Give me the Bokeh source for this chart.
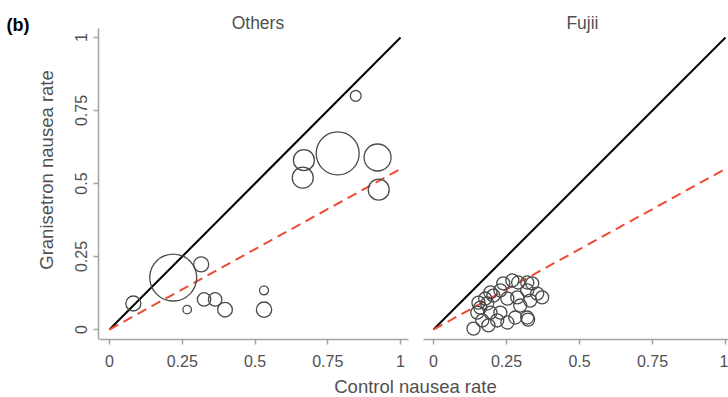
from bokeh.plotting import figure
from bokeh.layouts import row, column
from bokeh.models import ColumnDataSource, Label, FixedTicker
from bokeh.embed import file_html
from bokeh.resources import INLINE
import numpy as np

# --- data -----------------------------------------------------------------
# "Others" trials: control vs granisetron nausea rate, bubble area ~ weight
others_control = [0.846, 0.668, 0.664, 0.784, 0.921, 0.925, 0.219, 0.315,
                  0.082, 0.267, 0.325, 0.363, 0.397, 0.531, 0.531]
others_granisetron = [0.800, 0.580, 0.520, 0.603, 0.589, 0.479, 0.178, 0.223,
                      0.089, 0.068, 0.103, 0.103, 0.068, 0.134, 0.068]
others_weight = [13, 49, 49, 205, 81, 49, 245, 25, 25, 8, 20, 20, 24, 9, 26]

# "Fujii" trials
fujii_control = [0.137, 0.167, 0.188, 0.218, 0.253, 0.280, 0.321, 0.324,
                 0.229, 0.195, 0.160, 0.154, 0.184, 0.205, 0.229, 0.195,
                 0.239, 0.270, 0.290, 0.321, 0.338, 0.287, 0.321, 0.331,
                 0.372, 0.355, 0.177, 0.253, 0.150, 0.297]
fujii_granisetron = [0.003, 0.031, 0.014, 0.031, 0.024, 0.041, 0.041, 0.034,
                     0.058, 0.058, 0.075, 0.092, 0.089, 0.116, 0.134, 0.127,
                     0.158, 0.168, 0.161, 0.161, 0.158, 0.110, 0.134, 0.099,
                     0.110, 0.123, 0.106, 0.106, 0.058, 0.082]
fujii_weight = [19] * len(fujii_control)

# reference lines: identity and pooled ratio
identity_x = [0, 1]
pooled_ratio = 0.55

tick_values = [0, 0.25, 0.5, 0.75, 1]
tick_labels = ["0", "0.25", "0.5", "0.75", "1"]

panel_titles = ["Others", "Fujii"]
panel_tag = "(b)"
x_title = "Control nausea rate"
y_title = "Granisetron nausea rate"

# --- styling ---------------------------------------------------------------
FONT = "Liberation Sans"
AXIS_GREY = "#a3a3a3"
TEXT_GREY = "#505050"
BUBBLE = "#4a4a4a"
RED = "#ee4a35"
PX_PER_UNIT = 292.0
PANEL_H = 372
TAG_W = 32


def bubble_source(xs, ys, ws):
    return ColumnDataSource(dict(x=xs, y=ys, size=[3.0 * np.sqrt(w) for w in ws]))


def style_axis(ax, bounds, vertical=False):
    ax.bounds = bounds
    ax.ticker = FixedTicker(ticks=tick_values)
    ax.major_label_overrides = {float(v): s for v, s in zip(tick_values, tick_labels)}
    ax.axis_line_color = AXIS_GREY
    ax.axis_line_width = 1.5
    ax.major_tick_line_color = AXIS_GREY
    ax.major_tick_line_width = 1.5
    ax.major_tick_in = 0
    ax.major_tick_out = 5
    ax.minor_tick_line_color = None
    ax.major_label_text_font = FONT
    ax.major_label_text_font_size = "16px"
    ax.major_label_text_color = TEXT_GREY
    if vertical:
        ax.major_label_orientation = "vertical"
        ax.major_label_standoff = 7
    else:
        ax.major_label_standoff = 10


def blank(width, height):
    f = figure(width=width, height=height, x_range=(0, width), y_range=(0, height),
               output_backend="svg", toolbar_location=None,
               x_axis_location=None, y_axis_location=None, min_border=0)
    f.grid.visible = False
    f.outline_line_color = None
    return f


def panel(width, x_start, title, xs, ys, ws, border_left):
    y_start = -10 / PX_PER_UNIT
    frame_left = border_left if border_left else 0
    p = figure(width=width, height=PANEL_H,
               x_range=(x_start, x_start + (width - frame_left) / PX_PER_UNIT),
               y_range=(y_start, y_start + 339 / PX_PER_UNIT),
               output_backend="svg", toolbar_location=None,
               min_border_left=frame_left, min_border_right=0,
               min_border_top=0, min_border_bottom=33,
               y_axis_location="left" if border_left else None)
    p.grid.visible = False
    p.outline_line_color = None
    p.background_fill_color = "white"
    p.border_fill_color = "white"

    style_axis(p.xaxis[0], (-0.035, 1.027 if border_left else 1.2))

    p.line(identity_x, identity_x, line_color="black", line_width=2)
    p.line(identity_x, [pooled_ratio * v for v in identity_x],
           line_color=RED, line_width=2, line_dash="10 6")
    p.scatter("x", "y", size="size", source=bubble_source(xs, ys, ws),
              marker="circle", fill_color=None, line_color=BUBBLE,
              line_width=1.3)

    p.add_layout(Label(x=0.51, y=(329 - 22) / PX_PER_UNIT, text=title,
                       text_align="center", text_baseline="middle",
                       text_font=FONT, text_font_size="17.5px",
                       text_color=TEXT_GREY))
    return p


# narrow strip on the far left carrying the panel tag
tag = blank(TAG_W, PANEL_H)
tag.add_layout(Label(x=6, y=PANEL_H - 26.5, text=panel_tag, text_align="left",
                     text_baseline="middle", text_font=FONT,
                     text_font_size="18px", text_font_style="bold",
                     text_color="black"))

left = panel(416 - TAG_W, -11 / PX_PER_UNIT, panel_titles[0],
             others_control, others_granisetron, others_weight, 97 - TAG_W)
style_axis(left.yaxis[0], (-0.035, 1.03), vertical=True)
left.yaxis[0].axis_label = y_title
left.yaxis[0].axis_label_text_font = FONT
left.yaxis[0].axis_label_text_font_size = "18.5px"
left.yaxis[0].axis_label_text_font_style = "normal"
left.yaxis[0].axis_label_text_color = TEXT_GREY
left.yaxis[0].axis_label_standoff = 15

right = panel(312, -17 / PX_PER_UNIT, panel_titles[1],
              fujii_control, fujii_granisetron, fujii_weight, 0)

# shared x-axis title across both panels
footer = blank(728, 397 - PANEL_H)
footer.add_layout(Label(x=415, y=11, text=x_title, text_align="center",
                        text_baseline="middle", text_font=FONT,
                        text_font_size="18.5px", text_color=TEXT_GREY))

layout = column(row(tag, left, right), footer)

with open("out.html", "w") as f:
    f.write(file_html(layout, INLINE))
